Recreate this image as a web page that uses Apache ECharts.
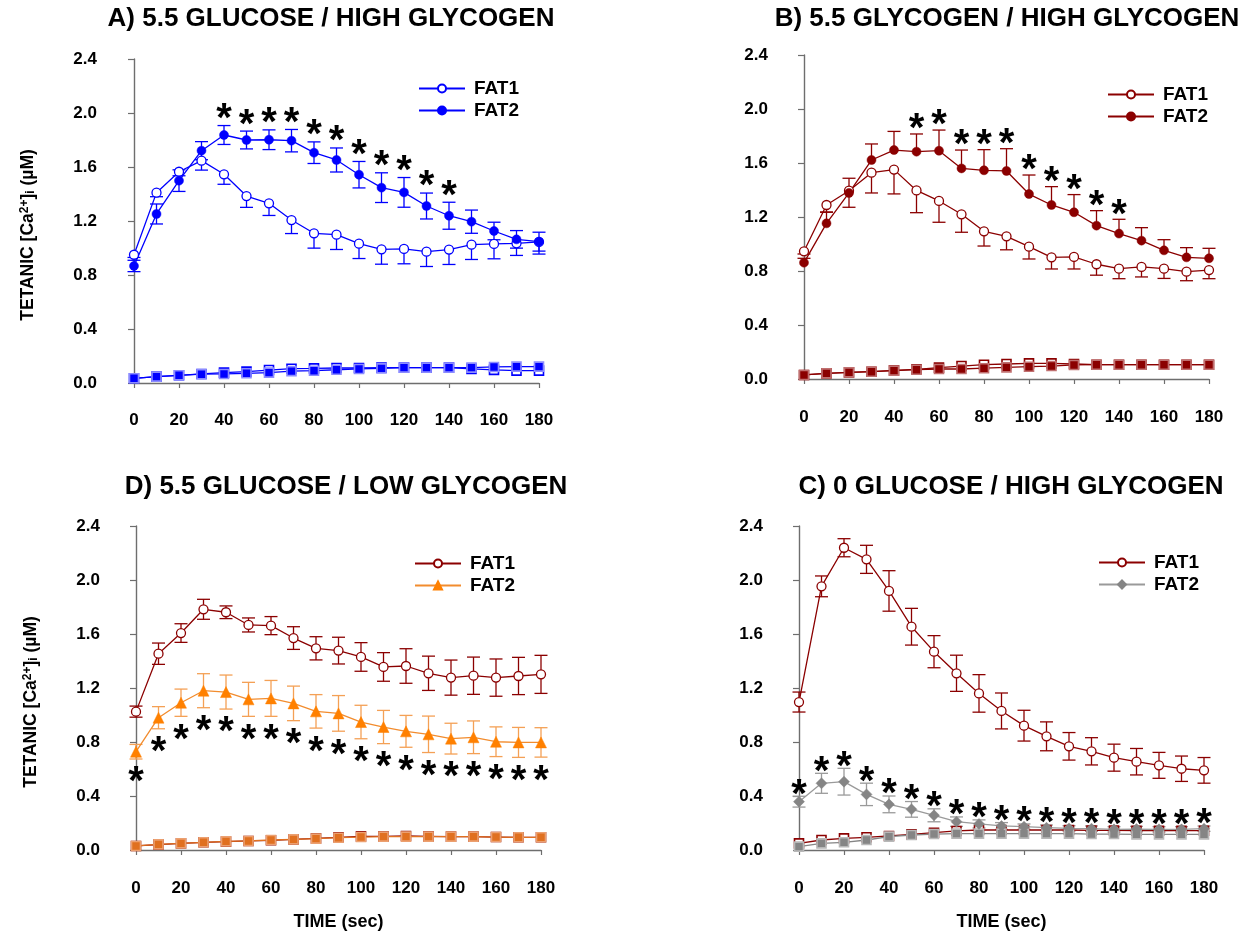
<!DOCTYPE html>
<html>
<head>
<meta charset="utf-8">
<script src="https://cdn.jsdelivr.net/npm/echarts@6/dist/echarts.min.js"></script>
<style>
  html, body { margin: 0; padding: 0; background: #fff; }
  #wrap { position: relative; width: 1243px; height: 936px; overflow: hidden; }
  .panel { position: absolute; width: 622px; height: 468px; }
</style>
</head>
<body>
<div id="wrap">
  <div class="panel" id="pA" style="left:0;top:0"></div>
  <div class="panel" id="pB" style="left:621px;top:0"></div>
  <div class="panel" id="pD" style="left:0;top:468px"></div>
  <div class="panel" id="pC" style="left:621px;top:468px"></div>
</div>
<script>
// ---- shared axes ----
const TIME = [0, 10, 20, 30, 40, 50, 60, 70, 80, 90, 100, 110, 120, 130, 140, 150, 160, 170, 180];
const X_MIN = 0, X_MAX = 180, X_STEP = 20;
const Y_MIN = 0, Y_MAX = 2.4, Y_STEP = 0.4;

// ---- A) 5.5 glucose / high glycogen ----
const aTitle = 'A) 5.5 GLUCOSE / HIGH GLYCOGEN';
const aFat1 = [0.95, 1.41, 1.565, 1.647, 1.546, 1.385, 1.331, 1.207, 1.109, 1.099, 1.032, 0.990, 0.993, 0.973, 0.988, 1.025, 1.03, 1.035, 1.045];
const aFat1Se = [0.02, 0.03, 0.03, 0.07, 0.074, 0.084, 0.09, 0.10, 0.11, 0.11, 0.11, 0.11, 0.11, 0.11, 0.11, 0.11, 0.11, 0.09, 0.09];
const aFat2 = [0.867, 1.252, 1.499, 1.721, 1.837, 1.80, 1.802, 1.795, 1.706, 1.652, 1.543, 1.447, 1.412, 1.311, 1.239, 1.195, 1.126, 1.064, 1.047];
const aFat2Se = [0.042, 0.074, 0.08, 0.067, 0.07, 0.066, 0.073, 0.083, 0.08, 0.089, 0.098, 0.11, 0.11, 0.096, 0.10, 0.086, 0.065, 0.065, 0.07];
const aFat1Rest = [0.035, 0.047, 0.057, 0.067, 0.077, 0.084, 0.096, 0.106, 0.108, 0.111, 0.111, 0.114, 0.114, 0.114, 0.114, 0.105, 0.097, 0.092, 0.092];
const aFat2Rest = [0.035, 0.047, 0.057, 0.065, 0.067, 0.072, 0.077, 0.088, 0.091, 0.098, 0.104, 0.108, 0.114, 0.114, 0.114, 0.114, 0.119, 0.121, 0.121];
const aStars = [40, 50, 60, 70, 80, 90, 100, 110, 120, 130, 140];

// ---- B) 5.5 glycogen / high glycogen ----
const bTitle = 'B) 5.5 GLYCOGEN / HIGH GLYCOGEN';
const bFat1 = [0.946, 1.289, 1.395, 1.528, 1.551, 1.397, 1.319, 1.22, 1.094, 1.057, 0.98, 0.901, 0.904, 0.85, 0.817, 0.83, 0.817, 0.795, 0.807];
const bFat1Se = [0.02, 0.054, 0.123, 0.15, 0.18, 0.165, 0.158, 0.133, 0.109, 0.10, 0.091, 0.086, 0.089, 0.081, 0.074, 0.074, 0.072, 0.067, 0.064];
const bFat2 = [0.862, 1.153, 1.378, 1.622, 1.696, 1.684, 1.691, 1.56, 1.546, 1.541, 1.37, 1.289, 1.235, 1.136, 1.077, 1.025, 0.953, 0.901, 0.894];
const bFat2Se = [0.032, 0.084, 0.109, 0.119, 0.138, 0.131, 0.153, 0.136, 0.153, 0.165, 0.141, 0.136, 0.131, 0.111, 0.106, 0.096, 0.079, 0.072, 0.074];
const bFat1Rest = [0.030, 0.042, 0.049, 0.054, 0.064, 0.072, 0.084, 0.096, 0.106, 0.111, 0.116, 0.116, 0.111, 0.106, 0.106, 0.106, 0.106, 0.106, 0.106];
const bFat2Rest = [0.030, 0.042, 0.049, 0.054, 0.062, 0.069, 0.074, 0.074, 0.080, 0.086, 0.091, 0.096, 0.104, 0.106, 0.106, 0.106, 0.106, 0.106, 0.106];
const bStars = [50, 60, 70, 80, 90, 100, 110, 120, 130, 140];

// ---- D) 5.5 glucose / low glycogen ----
const dTitle = 'D) 5.5 GLUCOSE / LOW GLYCOGEN';
const dFat1 = [1.025, 1.454, 1.607, 1.783, 1.761, 1.667, 1.662, 1.570, 1.494, 1.477, 1.430, 1.356, 1.363, 1.309, 1.277, 1.291, 1.277, 1.289, 1.301];
const dFat1Se = [0.041, 0.079, 0.069, 0.074, 0.047, 0.052, 0.067, 0.084, 0.086, 0.099, 0.106, 0.106, 0.128, 0.127, 0.13, 0.138, 0.138, 0.138, 0.141];
const dFat2 = [0.728, 0.98, 1.091, 1.18, 1.17, 1.116, 1.123, 1.086, 1.027, 1.012, 0.948, 0.911, 0.879, 0.857, 0.825, 0.835, 0.802, 0.797, 0.797];
const dFat2Se = [0.054, 0.082, 0.101, 0.126, 0.126, 0.126, 0.133, 0.128, 0.124, 0.132, 0.124, 0.123, 0.118, 0.135, 0.114, 0.121, 0.11, 0.111, 0.109];
const dFat1Rest = [0.03, 0.04, 0.049, 0.057, 0.062, 0.067, 0.072, 0.079, 0.086, 0.094, 0.101, 0.101, 0.104, 0.101, 0.099, 0.099, 0.096, 0.094, 0.094];
const dFat2Rest = [0.03, 0.042, 0.049, 0.057, 0.064, 0.067, 0.074, 0.079, 0.084, 0.091, 0.096, 0.099, 0.099, 0.099, 0.099, 0.099, 0.096, 0.094, 0.094];
const dStars = [0, 10, 20, 30, 40, 50, 60, 70, 80, 90, 100, 110, 120, 130, 140, 150, 160, 170, 180];

// ---- C) 0 glucose / high glycogen ----
const cTitle = 'C) 0 GLUCOSE / HIGH GLYCOGEN';
const cFat1 = [1.096, 1.953, 2.239, 2.153, 1.919, 1.654, 1.469, 1.309, 1.16, 1.03, 0.921, 0.842, 0.768, 0.731, 0.684, 0.654, 0.627, 0.602, 0.59];
const cFat1Se = [0.074, 0.077, 0.067, 0.104, 0.15, 0.136, 0.119, 0.134, 0.139, 0.133, 0.114, 0.107, 0.102, 0.101, 0.1, 0.098, 0.096, 0.094, 0.095];
const cFat2 = [0.358, 0.494, 0.506, 0.412, 0.338, 0.301, 0.257, 0.21, 0.193, 0.178, 0.173, 0.165, 0.16, 0.158, 0.153, 0.155, 0.153, 0.153, 0.158];
const cFat2Se = [0.04, 0.074, 0.099, 0.083, 0.062, 0.058, 0.048, 0.035, 0.03, 0.025, 0.02, 0.02, 0.02, 0.02, 0.02, 0.02, 0.02, 0.02, 0.02];
const cFat1Rest = [0.049, 0.074, 0.086, 0.094, 0.104, 0.116, 0.128, 0.141, 0.148, 0.148, 0.148, 0.148, 0.148, 0.145, 0.145, 0.143, 0.143, 0.143, 0.143];
const cFat2Rest = [0.025, 0.049, 0.057, 0.074, 0.099, 0.111, 0.118, 0.121, 0.121, 0.121, 0.121, 0.121, 0.121, 0.118, 0.118, 0.116, 0.116, 0.116, 0.116];
const cStars = [0, 10, 20, 30, 40, 50, 60, 70, 80, 90, 100, 110, 120, 130, 140, 150, 160, 170, 180];

const Y_NAME = '{t|TETANIC [Ca}{sup|2+}{t|]}{sub|i}{t| (µM)}';
const X_NAME = 'TIME (sec)';

// ---- styling ----
const FONT = 'Liberation Sans, Arial, sans-serif';
const AXIS_GRAY = '#6e6e6e';
const BLUE = '#0000ff';
const DARKRED = '#8b0000';
const ORANGE = '#ff8000';
const ORANGE_LINE = '#f28c2e';
const ORANGE_REST = '#e07020';
const GRAY = '#858585';

function pairs(values) { return TIME.map((t, i) => [t, values[i]]); }

function meanLine(name, values, color, marker) {
  return {
    name, type: 'line', data: pairs(values), z: 5,
    symbol: marker.symbol, symbolSize: marker.size,
    itemStyle: marker.open
      ? { color: '#fff', borderColor: color, borderWidth: 1.3 }
      : { color: marker.fill || color, borderColor: marker.fill || color, borderWidth: 0.5 },
    lineStyle: { color: marker.line || color, width: 1.3 },
    emphasis: { disabled: true }
  };
}

function restLine(name, values, color, open, halo) {
  return {
    name, type: 'line', data: pairs(values), z: open ? 3 : 4,
    symbol: 'rect', symbolSize: 9,
    itemStyle: open
      ? { color: '#fff', borderColor: color, borderWidth: 1.6 }
      : { color: color, borderColor: halo, borderWidth: 1.6 },
    lineStyle: { color: color, width: 1.3 },
    emphasis: { disabled: true }
  };
}

// vertical error bars: dir = 'up' | 'down' | 'both'
function errorBars(name, values, se, color, dir) {
  return {
    name, type: 'custom', z: 2,
    data: TIME.map((t, i) => [t, values[i], se[i]]),
    renderItem: (params, api) => {
      const t = api.value(0), m = api.value(1), e = api.value(2);
      const c = api.coord([t, m]);
      const hi = api.coord([t, m + e]);
      const lo = api.coord([t, m - e]);
      const top = dir === 'down' ? c[1] : hi[1];
      const bot = dir === 'up' ? c[1] : lo[1];
      const hw = 6.5;
      const st = { stroke: color, lineWidth: 1.3 };
      const kids = [{ type: 'line', shape: { x1: c[0], y1: top, x2: c[0], y2: bot }, style: st }];
      if (dir !== 'down') kids.push({ type: 'line', shape: { x1: c[0] - hw, y1: hi[1], x2: c[0] + hw, y2: hi[1] }, style: st });
      if (dir !== 'up') kids.push({ type: 'line', shape: { x1: c[0] - hw, y1: lo[1], x2: c[0] + hw, y2: lo[1] }, style: st });
      return { type: 'group', children: kids };
    }
  };
}

// significance asterisks placed beyond the end of an error bar
function stars(name, times, values, se, dir, gap) {
  const fs = 40;
  return {
    name, type: 'custom', z: 6,
    data: times.map(t => { const i = TIME.indexOf(t); return [t, dir === 'up' ? values[i] + se[i] : values[i] - se[i]]; }),
    renderItem: (params, api) => {
      const p = api.coord([api.value(0), api.value(1)]);
      const cy = dir === 'up' ? p[1] - gap : p[1] + gap;
      return {
        type: 'text', x: p[0], y: cy + 0.21 * fs,
        style: { text: '*', fontFamily: FONT, fontWeight: 'bold', fontSize: fs, fill: '#000', align: 'center', verticalAlign: 'middle' }
      };
    }
  };
}

function buildOption(cfg) {
  const labelStyle = { color: '#000', fontFamily: FONT, fontWeight: 'bold', fontSize: 17 };
  return {
    animation: false,
    backgroundColor: 'transparent',
    graphic: [{
      type: 'text', x: cfg.titleX, y: 19,
      style: { text: cfg.title, fontFamily: FONT, fontWeight: 'bold', fontSize: 26, fill: '#000', align: 'center', verticalAlign: 'middle' }
    }],
    grid: { left: cfg.left, top: cfg.top, width: 405, height: 324 },
    legend: {
      orient: 'vertical', left: cfg.legendLeft, top: cfg.legendTop,
      itemWidth: 46, itemHeight: 10, itemGap: 3, selectedMode: false,
      data: ['FAT1', 'FAT2'],
      textStyle: { color: '#000', fontFamily: FONT, fontWeight: 'bold', fontSize: 19, lineHeight: 19, padding: [0, 0, 0, 4] }
    },
    xAxis: {
      type: 'value', min: X_MIN, max: X_MAX, interval: X_STEP, offset: cfg.xOffset,
      axisLine: { show: true, lineStyle: { color: AXIS_GRAY, width: 1.4 } },
      axisTick: { show: true, length: 5, lineStyle: { color: AXIS_GRAY, width: 1.2 } },
      axisLabel: Object.assign({ margin: 13 }, labelStyle),
      splitLine: { show: false },
      name: cfg.xName ? X_NAME : '', nameLocation: 'middle', nameGap: 46,
      nameTextStyle: { color: '#000', fontFamily: FONT, fontWeight: 'bold', fontSize: 18 }
    },
    yAxis: {
      type: 'value', min: Y_MIN, max: Y_MAX, interval: Y_STEP, offset: cfg.yOffset,
      axisLine: { show: true, lineStyle: { color: AXIS_GRAY, width: 1.4 } },
      axisTick: { show: true, length: 6, lineStyle: { color: AXIS_GRAY, width: 1.2 } },
      axisLabel: Object.assign({ margin: 16, formatter: v => v.toFixed(1) }, labelStyle),
      splitLine: { show: false },
      name: cfg.yName ? Y_NAME : '', nameLocation: 'middle', nameGap: 76, nameRotate: 90,
      nameTextStyle: {
        padding: [0, 28, 0, 0],
        rich: {
          t: { fontFamily: FONT, fontWeight: 'bold', fontSize: 17.5, color: '#000' },
          sup: { fontFamily: FONT, fontWeight: 'bold', fontSize: 12, color: '#000', verticalAlign: 'top', padding: [0, 0, 6, 0] },
          sub: { fontFamily: FONT, fontWeight: 'bold', fontSize: 12, color: '#000', verticalAlign: 'bottom', padding: [6, 0, 0, 0] }
        }
      }
    },
    series: cfg.series
  };
}

const panels = [
  {
    el: 'pA', title: aTitle, titleX: 331, left: 134, top: 59, xOffset: 16, yOffset: 21,
    legendLeft: 413, legendTop: 74, yName: true, xName: false,
    series: [
      restLine('FAT1 rest', aFat1Rest, BLUE, true),
      restLine('FAT2 rest', aFat2Rest, BLUE, false, '#8c8cff'),
      errorBars('FAT1 sem', aFat1, aFat1Se, BLUE, 'down'),
      errorBars('FAT2 sem', aFat2, aFat2Se, BLUE, 'both'),
      meanLine('FAT1', aFat1, BLUE, { symbol: 'circle', size: 9, open: true }),
      meanLine('FAT2', aFat2, BLUE, { symbol: 'circle', size: 9, open: false }),
      stars('FAT2 sig', aStars, aFat2, aFat2Se, 'up', 14)
    ]
  },
  {
    el: 'pB', title: bTitle, titleX: 386, left: 183, top: 55, xOffset: 17, yOffset: 20,
    legendLeft: 481, legendTop: 80, yName: false, xName: false,
    series: [
      restLine('FAT1 rest', bFat1Rest, DARKRED, true),
      restLine('FAT2 rest', bFat2Rest, DARKRED, false, '#c07070'),
      errorBars('FAT1 sem', bFat1, bFat1Se, DARKRED, 'down'),
      errorBars('FAT2 sem', bFat2, bFat2Se, DARKRED, 'up'),
      meanLine('FAT1', bFat1, DARKRED, { symbol: 'circle', size: 9, open: true }),
      meanLine('FAT2', bFat2, DARKRED, { symbol: 'circle', size: 9, open: false }),
      stars('FAT2 sig', bStars, bFat2, bFat2Se, 'up', 12)
    ]
  },
  {
    el: 'pD', title: dTitle, titleX: 346, left: 136, top: 58, xOffset: 17, yOffset: 20,
    legendLeft: 409, legendTop: 81, yName: true, xName: true,
    series: [
      restLine('FAT1 rest', dFat1Rest, DARKRED, true),
      restLine('FAT2 rest', dFat2Rest, ORANGE_REST, false, '#eca070'),
      errorBars('FAT1 sem', dFat1, dFat1Se, DARKRED, 'both'),
      errorBars('FAT2 sem', dFat2, dFat2Se, '#f4a055', 'both'),
      meanLine('FAT1', dFat1, DARKRED, { symbol: 'circle', size: 9, open: true }),
      meanLine('FAT2', dFat2, ORANGE_LINE, { symbol: 'triangle', size: 11, open: false, fill: ORANGE, line: ORANGE_LINE }),
      stars('FAT2 sig', dStars, dFat2, dFat2Se, 'down', 16)
    ]
  },
  {
    el: 'pC', title: cTitle, titleX: 390, left: 178, top: 58, xOffset: 17, yOffset: 20,
    legendLeft: 472, legendTop: 80, yName: false, xName: true,
    series: [
      restLine('FAT1 rest', cFat1Rest, DARKRED, true),
      restLine('FAT2 rest', cFat2Rest, GRAY, false, '#b8b8b8'),
      errorBars('FAT1 sem', cFat1, cFat1Se, DARKRED, 'both'),
      errorBars('FAT2 sem', cFat2, cFat2Se, '#9a9a9a', 'both'),
      meanLine('FAT1', cFat1, DARKRED, { symbol: 'circle', size: 9, open: true }),
      meanLine('FAT2', cFat2, GRAY, { symbol: 'diamond', size: 11, open: false, fill: GRAY, line: '#9a9a9a' }),
      stars('FAT2 sig', cStars, cFat2, cFat2Se, 'up', 9)
    ]
  }
];

panels.forEach(cfg => {
  const chart = echarts.init(document.getElementById(cfg.el), null, { renderer: 'canvas' });
  chart.setOption(buildOption(cfg));
});
</script>
</body>
</html>
